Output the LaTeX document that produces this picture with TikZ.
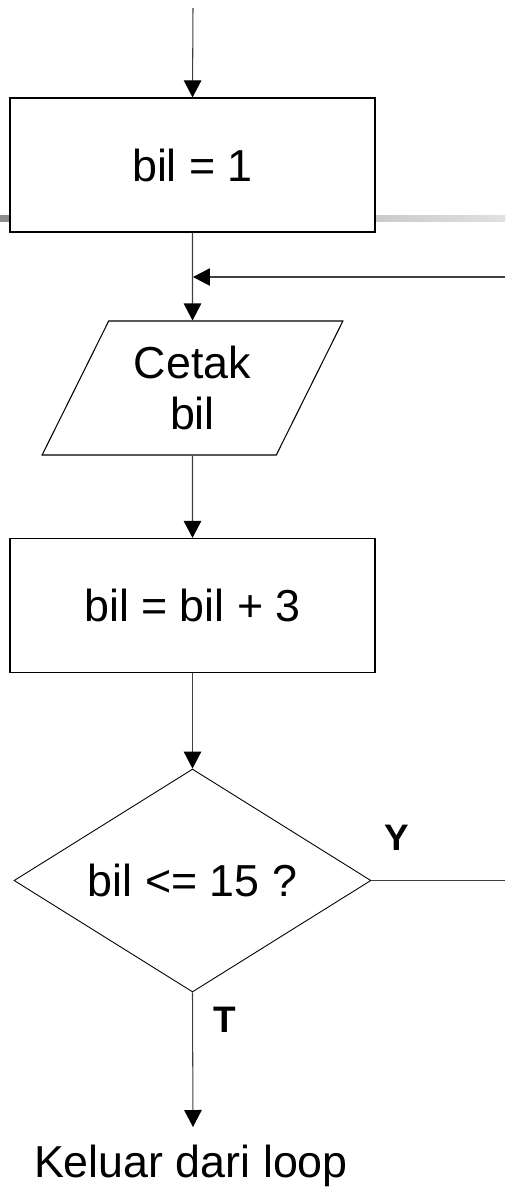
\documentclass[tikz,border=0pt]{standalone}
\usepackage{fontspec}
\setmainfont{Liberation Sans}
\usetikzlibrary{arrows.meta,shapes.geometric}

\begin{document}
\begin{tikzpicture}[x=0.02cm, y=-0.02cm,
  font=\fontsize{25.5}{29}\selectfont,
  proc/.style={rectangle, draw, fill=white, line width=0.7pt,
               minimum width=7.3cm, minimum height=2.68cm, inner sep=0pt},
  io/.style={trapezium, trapezium left angle=61, trapezium right angle=119,
             trapezium stretches=true, draw, line width=0.6pt, align=center,
             minimum width=6.02cm, minimum height=2.68cm, inner sep=0pt},
  dec/.style={diamond, aspect=1.6, draw, line width=0.5pt,
              minimum width=7.14cm, minimum height=4.46cm, inner sep=0pt},
  yt/.style={font=\fontsize{21}{24}\selectfont\bfseries},
  e/.style={draw=black!75, line width=0.6pt},
  arr/.style={e, -{Triangle[length=0.34cm, width=0.35cm, color=black]}}]
\useasboundingbox (0,0) rectangle (505,1188);
% band of the slide template, behind the first box
\shade[left color=black!45, right color=black!12] (0,215) rectangle (505,221);
\coordinate (start) at (193,8);
\node[proc] (init) at (192.5,165) {bil = 1};
\node[io] (cetak) at (192.5,388) {Cetak\\bil};
\node[proc] (tambah) at (192.5,605.5) {bil = bil + 3};
\node[dec] (cek) at (192.5,880.5) {bil <= 15 ?};
\coordinate (back) at (505,277); \coordinate (join) at (193,277);
\coordinate (ya) at (505,880.5); \coordinate (out) at (193,1127);
\node[anchor=base] (keluar) at (191,1177) {Keluar dari loop};
\node[yt] (ly) at (397,838) {Y};
\node[yt] (lt) at (225,1020) {T};
\draw[arr] (start) -- (init.north);
\draw[arr] (init.south) -- (cetak.north);
\draw[arr] (back) -- (join);
\draw[arr] (cetak.south) -- (tambah.north);
\draw[arr] (tambah.south) -- (cek.north);
\draw[e] (cek.east) -- (ya);
\draw[arr] (cek.south) -- (out);
\end{tikzpicture}
\end{document}
